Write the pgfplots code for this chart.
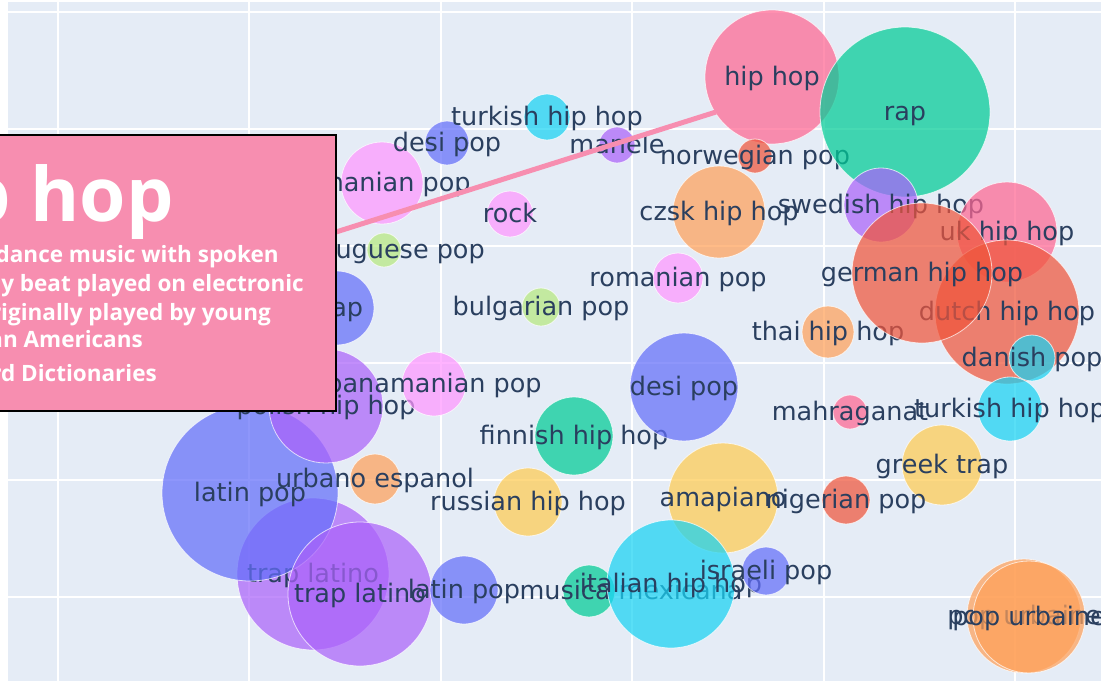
\documentclass[border=0pt]{standalone}
\usepackage{pgfplots}
\pgfplotsset{compat=1.18}
\usepackage{fontspec}
\setmainfont{DejaVu Sans}
\newfontfamily\osans{Open Sans}
\definecolor{bgc}{HTML}{E5ECF6}
\definecolor{cBlue}{HTML}{636EFA}
\definecolor{cRed}{HTML}{EF553B}
\definecolor{cGreen}{HTML}{00CC96}
\definecolor{cPurple}{HTML}{AB63FA}
\definecolor{cOrange}{HTML}{FFA15A}
\definecolor{cCyan}{HTML}{19D3F3}
\definecolor{cPink}{HTML}{FF6692}
\definecolor{cLGreen}{HTML}{B6E880}
\definecolor{cLPink}{HTML}{FF97FF}
\definecolor{cYellow}{HTML}{FECB52}
\definecolor{labc}{HTML}{2A3F5F}
\definecolor{boxc}{RGB}{247,142,176}
\pgfplotsset{
  bub/.style 2 args={only marks, mark=*, mark size=#2,
    mark options={draw=white, line width=0.8pt, fill=#1, fill opacity=0.72, draw opacity=0.7}},
  lab/.style={nodes near coords={\vphantom{hp}#1}, nodes near coords align=center,
    nodes near coords style={font=\fontsize{25.5}{30}\selectfont, text=labc, anchor=center,
      inner sep=0pt, text opacity=1, yshift=-1pt}},
}
\begin{document}
\begin{tikzpicture}
\useasboundingbox (-8pt,0pt) rectangle (1093pt,681pt);
\clip (-8pt,0pt) rectangle (1093pt,681pt);
\begin{axis}[
  at={(0pt,0pt)}, anchor=south west,
  scale only axis, width=1093pt, height=679pt,
  xmin=8, xmax=1101, ymin=2, ymax=681, y dir=reverse,
  axis background/.style={fill=bgc},
  axis line style={draw=none},
  tick style={draw=none},
  xtick={58,249.4,440.8,632.2,823.6,1015},
  ytick={12,129,246,363,480,597},
  xticklabels={}, yticklabels={},
  grid=major, major grid style={white, line width=2pt},
  clip=false,
]
\addplot[bub={cPurple}{76}, lab={trap latino}] coordinates {(313,574)};
\addplot[bub={cBlue}{88}, lab={latin pop}] coordinates {(250,493)};
\addplot[bub={cPurple}{57}, lab={polish hip hop}] coordinates {(326,406)};
\addplot[bub={cOrange}{25}, lab={urbano espanol}] coordinates {(375,479)};
\addplot[bub={cPurple}{72}, lab={trap latino}] coordinates {(360,594)};
\addplot[bub={cBlue}{34}, lab={latin pop}] coordinates {(464,590)};
\addplot[bub={cGreen}{26}, lab={musica mexicana}, nodes near coords style={xshift=42pt}] coordinates {(589,591)};
\addplot[bub={cYellow}{55}, lab={amapiano}] coordinates {(723,498)};
\addplot[bub={cCyan}{64}, lab={italian hip hop}] coordinates {(671,584)};
\addplot[bub={cBlue}{24}, lab={israeli pop}] coordinates {(766,571)};
\addplot[bub={cYellow}{34}, lab={russian hip hop}] coordinates {(528,502)};
\addplot[bub={cGreen}{39}, lab={finnish hip hop}] coordinates {(574,436)};
\addplot[bub={cBlue}{54}, lab={desi pop}] coordinates {(684,387)};
\addplot[bub={cLPink}{32}, lab={panamanian pop}] coordinates {(434,384)};
\addplot[bub={cBlue}{37}, lab={trap}] coordinates {(337,308)};
\addplot[bub={cLGreen}{19}, lab={bulgarian pop}] coordinates {(541,307)};
\addplot[bub={cLGreen}{17}, lab={portuguese pop}] coordinates {(384,250)};
\addplot[bub={cLPink}{23}, lab={rock}] coordinates {(510,214)};
\addplot[bub={cLPink}{41}, lab={romanian pop}] coordinates {(382,183)};
\addplot[bub={cBlue}{22}, lab={desi pop}] coordinates {(447,143)};
\addplot[bub={cCyan}{23}, lab={turkish hip hop}] coordinates {(547,117)};
\addplot[bub={cPurple}{18}, lab={manele}] coordinates {(617,145)};
\addplot[bub={cPink}{67}, lab={hip hop}] coordinates {(772,77)};
\addplot[bub={cRed}{17}, lab={norwegian pop}] coordinates {(755,156)};
\addplot[bub={cGreen}{85}, lab={rap}] coordinates {(905,112)};
\addplot[bub={cOrange}{46}, lab={czsk hip hop}] coordinates {(719,212)};
\addplot[bub={cPurple}{37}, lab={swedish hip hop}] coordinates {(881,205)};
\addplot[bub={cLPink}{25}, lab={romanian pop}] coordinates {(678,278)};
\addplot[bub={cOrange}{26}, lab={thai hip hop}] coordinates {(828,332)};
\addplot[bub={cPink}{50}, lab={uk hip hop}] coordinates {(1007,232)};
\addplot[bub={cRed}{72}, lab={dutch hip hop}] coordinates {(1007,312)};
\addplot[bub={cRed}{70}, lab={german hip hop}] coordinates {(922,273)};
\addplot[bub={cCyan}{23}, lab={danish pop}] coordinates {(1032,358)};
\addplot[bub={cPink}{17}, lab={mahraganat}] coordinates {(850,412)};
\addplot[bub={cCyan}{32}, lab={turkish hip hop}] coordinates {(1010,409)};
\addplot[bub={cYellow}{40}, lab={greek trap}] coordinates {(942,465)};
\addplot[bub={cRed}{24}, lab={nigerian pop}] coordinates {(846,500)};
\addplot[bub={cOrange}{57}, lab={pop urbaine}] coordinates {(1024,616)};
\addplot[bub={cOrange}{56}, lab={pop urbaine}] coordinates {(1029,617)};
\end{axis}
% annotation (pixel (px,py) -> (px-8, 681-py) pt)
\draw[boxc, line width=5pt] (328pt,449pt) -- (708pt,569pt);
\draw[black, line width=2pt, fill=boxc] (-48pt,546pt) rectangle (328pt,270pt);
\node[anchor=base east, text=white, inner sep=0pt, font=\osans\bfseries\fontsize{75}{80}\selectfont] at (166pt,459pt) {hip hop};
\begin{scope}[every node/.style={anchor=base east, text=white, inner sep=0pt, font=\osans\bfseries\fontsize{22.5}{26}\selectfont}]
\node at (271pt,418pt) {a type of popular dance music with spoken};
\node at (296pt,389pt) {words and a steady beat played on electronic};
\node at (263pt,360pt) {instruments, originally played by young};
\node at (135pt,333pt) {African Americans};
\node at (149pt,299pt) {Oxford Dictionaries};
\end{scope}
\end{tikzpicture}
\end{document}
